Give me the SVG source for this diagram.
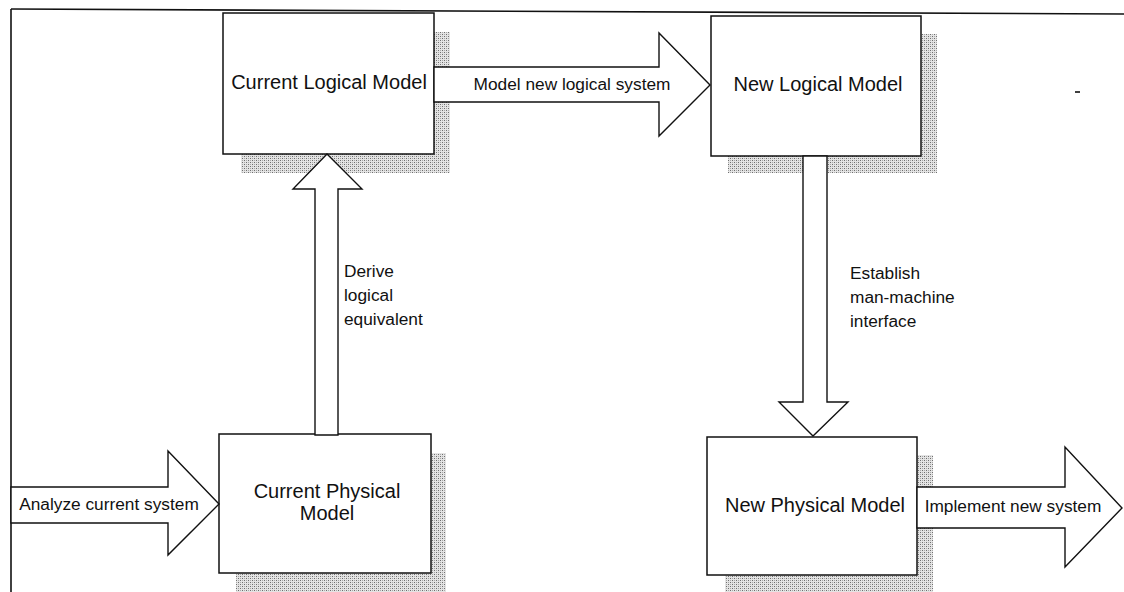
<svg xmlns="http://www.w3.org/2000/svg" width="1124" height="592" viewBox="0 0 1124 592">
  <defs>
    <!-- stippled drop shadow -->
    <pattern id="stipple" width="4" height="4" patternUnits="userSpaceOnUse">
      <rect width="4" height="4" fill="#e4e4e4"/>
      <rect x="0" y="0" width="1" height="1" fill="#6e6e6e"/>
      <rect x="2" y="2" width="1" height="1" fill="#6e6e6e"/>
      <rect x="2" y="0" width="1" height="1" fill="#a8a8a8"/>
      <rect x="0" y="2" width="1" height="1" fill="#a8a8a8"/>
    </pattern>
    <style>
      .shadow { fill: url(#stipple); stroke: none; }
      .box { fill: #ffffff; stroke: #111; stroke-width: 1.5; }
      .arrow { fill: #ffffff; stroke: #111; stroke-width: 1.4; stroke-linejoin: miter; }
      .frame { fill: none; stroke: #111; stroke-width: 1.6; }
      .title { font-family: "Liberation Sans", Arial, sans-serif; font-size: 20px; fill: #111; text-anchor: middle; }
      .label { font-family: "Liberation Sans", Arial, sans-serif; font-size: 17.3px; fill: #111; }
      .mid { text-anchor: middle; }
    </style>
  </defs>

  <rect width="1124" height="592" fill="#ffffff"/>

  <!-- page frame -->
  <g id="frame">
    <line class="frame" x1="11" y1="9" x2="11" y2="592"/>
    <line class="frame" x1="11" y1="9" x2="1124" y2="14"/>
    <line class="frame" x1="1075" y1="92" x2="1080" y2="92"/>
  </g>

  <!-- nodes -->
  <g id="current-logical-model">
    <rect class="shadow" x="241" y="32" width="209" height="141"/>
    <rect class="box" x="223" y="13" width="211" height="141"/>
    <text class="title" x="329" y="89">Current Logical Model</text>
  </g>

  <g id="new-logical-model">
    <rect class="shadow" x="728" y="34" width="209" height="139"/>
    <rect class="box" x="711" y="16" width="210" height="140"/>
    <text class="title" x="818" y="91">New Logical Model</text>
  </g>

  <g id="current-physical-model">
    <rect class="shadow" x="236" y="453" width="210" height="145"/>
    <rect class="box" x="219" y="434" width="212" height="139"/>
    <text class="title" x="327" y="498">Current Physical</text>
    <text class="title" x="327" y="520">Model</text>
  </g>

  <g id="new-physical-model">
    <rect class="shadow" x="725" y="455" width="208" height="140"/>
    <rect class="box" x="707" y="437" width="210" height="138"/>
    <text class="title" x="815" y="512">New Physical Model</text>
  </g>

  <!-- block-arrow connectors -->
  <g id="connectors">
    <g id="analyze-current-system">
      <polygon class="arrow" points="11,487 168,487 168,451 219,504 168,555 168,523 11,523"/>
      <text class="label mid" x="109" y="510">Analyze current system</text>
    </g>
    <g id="derive-logical-equivalent">
      <polygon class="arrow" points="315,435 315,189 293,189 327,154 362,189 338,189 338,435"/>
      <text class="label" x="344" y="277">Derive</text>
      <text class="label" x="344" y="301">logical</text>
      <text class="label" x="344" y="325">equivalent</text>
    </g>
    <g id="model-new-logical-system">
      <polygon class="arrow" points="434,67 659,67 659,33 710,85 659,136 659,102 434,102"/>
      <text class="label mid" x="572" y="90">Model new logical system</text>
    </g>
    <g id="establish-interface">
      <polygon class="arrow" points="803,156 803,402 779,402 813,436 848,402 827,402 827,156"/>
      <text class="label" x="850" y="279">Establish</text>
      <text class="label" x="850" y="303">man-machine</text>
      <text class="label" x="850" y="327">interface</text>
    </g>
    <g id="implement-new-system">
      <polygon class="arrow" points="917,487 1065,487 1065,447 1122,508 1065,567 1065,528 917,528"/>
      <text class="label mid" x="1013" y="512">Implement new system</text>
    </g>
  </g>
</svg>
